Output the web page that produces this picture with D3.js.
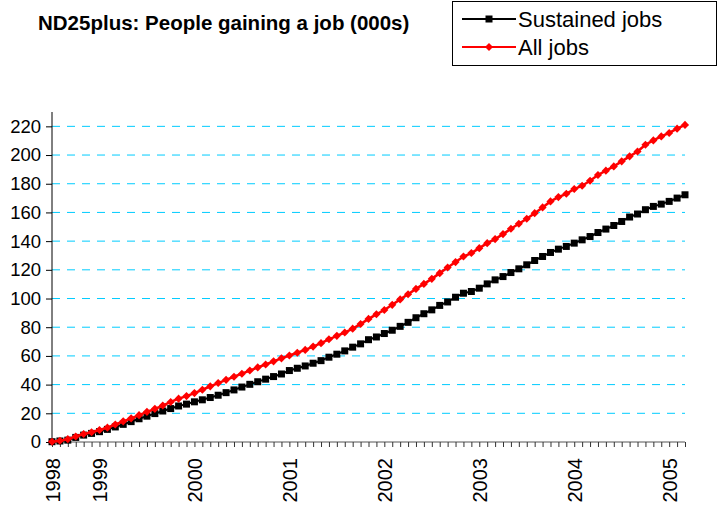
<!DOCTYPE html>
<html>
<head>
<meta charset="utf-8">
<script src="https://cdn.jsdelivr.net/npm/d3@7"></script>
<style>
  body { margin: 0; background: #fff; }
  svg { font-family: "Liberation Sans", Arial, sans-serif; }
</style>
</head>
<body>
<script>
// monthly, Jul 1998 .. Mar 2005 (000s)
const months = d3.timeMonths(new Date(1998, 6, 1), new Date(2005, 3, 1))

const sustained = [
  0.2, 0.7, 1.3, 3.2, 4.8, 6.0, 7.2, 8.8, 10.5, 12.3,
  14.2, 16.2, 18.0, 19.8, 21.6, 23.3, 25.1, 26.4, 28.0, 29.4,
  31.0, 32.6, 34.4, 36.3, 38.3, 40.2, 42.0, 43.8, 45.6, 47.4,
  49.8, 51.4, 53.0, 54.9, 56.7, 59.1, 61.2, 63.5, 66.1, 68.4,
  71.3, 73.2, 75.6, 77.9, 80.6, 83.4, 86.6, 89.4, 92.1, 95.2,
  97.6, 100.9, 103.7, 104.9, 107.2, 110.2, 113.0, 115.3, 118.1, 120.7,
  123.5, 126.5, 129.3, 132.1, 134.4, 136.3, 138.6, 140.9, 143.2, 146.0,
  148.4, 150.9, 153.7, 156.8, 158.9, 161.9, 164.2, 165.8, 167.7, 170.0,
  172.3
]

const allJobs = [
  0.2, 0.9, 2.0, 3.8, 5.6, 6.8, 8.4, 10.0, 12.2, 14.4,
  16.5, 18.7, 21.0, 23.1, 25.4, 27.9, 30.2, 32.0, 34.1, 36.4,
  38.8, 41.1, 43.3, 45.5, 47.6, 49.8, 52.0, 54.0, 56.2, 58.3,
  60.3, 62.2, 64.2, 66.5, 68.9, 71.6, 74.0, 76.3, 79.0, 82.2,
  85.8, 89.0, 92.0, 95.6, 99.4, 103.0, 106.7, 110.2, 113.7, 117.7,
  121.6, 125.4, 129.3, 131.7, 135.1, 138.6, 141.4, 144.9, 148.6, 152.1,
  155.6, 159.5, 163.5, 167.7, 170.7, 173.0, 176.3, 178.6, 182.1, 186.1,
  189.1, 192.1, 195.6, 199.1, 202.5, 207.2, 210.2, 213.0, 215.4, 218.4,
  221.0
]

const yTicks = [0, 20, 40, 60, 80, 100, 120, 140, 160, 180, 200, 220]
const yearLabels = ['1998', '1999', '2000', '2001', '2002', '2003', '2004', '2005']
const seriesNames = ['Sustained jobs', 'All jobs']

const width = 718
const height = 508

const svg = d3.select('body').append('svg')
  .attr('width', width)
  .attr('height', height)

const xScale = d3.scalePoint()
  .domain(d3.range(months.length))
  .range([52, 685])

const yScale = d3.scaleLinear()
  .domain([0, 230])
  .range([442, 112])

// title
svg.append('text')
  .attr('x', 38)
  .attr('y', 30)
  .attr('font-size', 20.5)
  .attr('font-weight', 'bold')
  .text('ND25plus: People gaining a job (000s)')

// gridlines
svg.append('g').selectAll('line')
  .data(yTicks.filter(d => d > 0))
  .enter()
  .append('line')
  .attr('x1', 52)
  .attr('x2', 685)
  .attr('y1', d => yScale(d))
  .attr('y2', d => yScale(d))
  .attr('stroke', '#00ccff')
  .attr('stroke-width', 1)
  .attr('stroke-dasharray', '8,7')

// y axis
const yAxis = d3.axisLeft(yScale)
  .tickValues(yTicks)
  .tickSize(6)
  .tickPadding(5)

const gy = svg.append('g')
  .attr('transform', 'translate(52,0)')
  .call(yAxis)
gy.selectAll('text').attr('font-size', 18.5).attr('fill', '#000').attr('font-family', null)
gy.selectAll('line').attr('stroke', '#000')
gy.select('.domain').attr('d', `M0,${yScale(230)}V${yScale(0)}`).attr('stroke', '#000')

// x axis
const labelIdx = months.map((m, i) => i).filter(i => i === 0 || months[i].getMonth() === 0)
const xAxis = d3.axisBottom(xScale)
  .tickSize(5)
  .tickFormat(i => {
    const k = labelIdx.indexOf(i)
    return k >= 0 ? yearLabels[k] : ''
  })

const gx = svg.append('g')
  .attr('transform', `translate(0,${yScale(0)})`)
  .call(xAxis)
gx.select('.domain').attr('d', `M52,0H685`).attr('stroke', '#555')
gx.selectAll('line').attr('stroke', '#333')
gx.selectAll('text')
  .attr('font-size', 20)
  .attr('font-family', null)
  .attr('fill', '#000')
  .attr('text-anchor', 'end')
  .attr('transform', 'rotate(-90)')
  .attr('x', -16)
  .attr('y', 0)
  .attr('dy', '0.36em')

// lines
const line = d3.line()
  .x((d, i) => xScale(i))
  .y(d => yScale(d))

svg.append('path')
  .datum(sustained)
  .attr('fill', 'none')
  .attr('stroke', '#000')
  .attr('stroke-width', 2)
  .attr('d', line)

svg.append('g').selectAll('rect')
  .data(sustained)
  .enter()
  .append('rect')
  .attr('x', (d, i) => xScale(i) - 3.5)
  .attr('y', d => yScale(d) - 3.5)
  .attr('width', 7)
  .attr('height', 7)
  .attr('fill', '#000')

svg.append('path')
  .datum(allJobs)
  .attr('fill', 'none')
  .attr('stroke', '#ff0000')
  .attr('stroke-width', 2.5)
  .attr('d', line)

const diamond = d3.symbol().type(d3.symbolDiamond2).size(42)
svg.append('g').selectAll('path')
  .data(allJobs)
  .enter()
  .append('path')
  .attr('d', diamond)
  .attr('transform', (d, i) => `translate(${xScale(i)},${yScale(d)})`)
  .attr('fill', '#ff0000')

// legend
const legend = svg.append('g')
legend.append('rect')
  .attr('x', 452.5)
  .attr('y', 1.5)
  .attr('width', 264)
  .attr('height', 64)
  .attr('fill', '#fff')
  .attr('stroke', '#000')

const legendColors = ['#000', '#ff0000']

seriesNames.forEach((name, i) => {
  const y = 19 + i * 28
  legend.append('line')
    .attr('x1', 462).attr('x2', 516)
    .attr('y1', y).attr('y2', y)
    .attr('stroke', legendColors[i])
    .attr('stroke-width', 2)
  if (i === 0) {
    legend.append('rect')
      .attr('x', 485.5).attr('y', y - 3.5)
      .attr('width', 7).attr('height', 7)
      .attr('fill', legendColors[i])
  } else {
    legend.append('path')
      .attr('d', diamond)
      .attr('transform', `translate(489,${y})`)
      .attr('fill', legendColors[i])
  }
  legend.append('text')
    .attr('x', 518)
    .attr('y', y)
    .attr('dy', '0.36em')
    .attr('font-size', 22)
    .text(name)
})
</script>
</body>
</html>
